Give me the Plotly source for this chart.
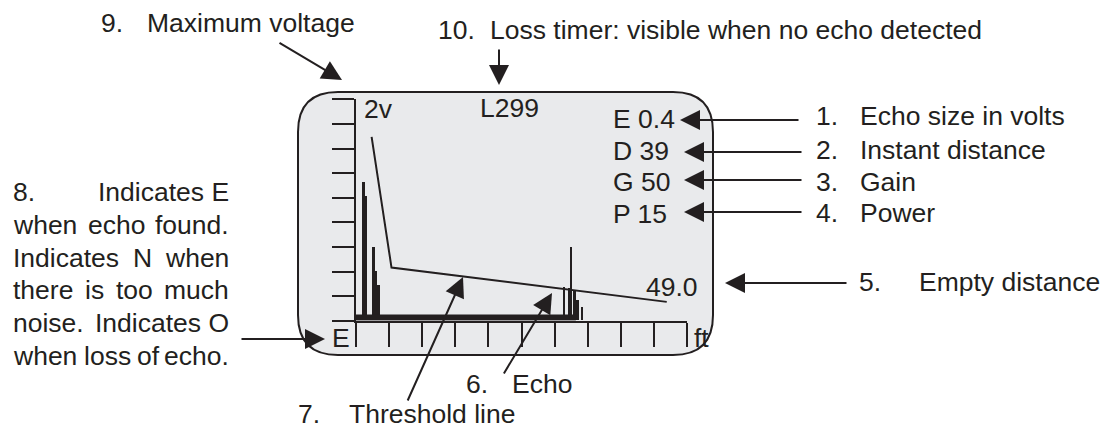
"""Level transmitter echo display, annotated (static diagram)."""

import plotly.graph_objects as go

W, H = 1109, 429
OFF = 8  # page margin around the figure div
INK = "#231f20"
SCREEN = "#e9eaec"
FONT = "Liberation Sans, Arial, sans-serif"
FS = 26.5

# --- display data: distance in ft, amplitude in volts (2 V full scale)
x_range_ft = [0, 50]
y_range_v = [0, 2]
threshold_ft = [2.4, 5.4, 46.9]
threshold_v = [1.66, 0.48, 0.17]
floor_ft = [0, 33.2]
floor_v = [0.028, 0.028]
echo_ft = [1.15, 1.55, 2.65, 3.02, 3.41, 31.41, 32.12, 32.42, 33.02, 33.41, 34.12]
echo_v = [1.25, 1.12, 0.66, 0.45, 0.32, 0.30, 0.29, 0.665, 0.27, 0.18, 0.12]

screen_labels = ["2v", "L299", "E 0.4", "D 39", "G 50", "P 15", "49.0", "E", "ft"]
callouts = [
    ("9.", "Maximum voltage"),
    ("10.", "Loss timer: visible when no echo detected"),
    ("1.", "Echo size in volts"),
    ("2.", "Instant distance"),
    ("3.", "Gain"),
    ("4.", "Power"),
    ("5.", "Empty distance"),
    ("6.", "Echo"),
    ("7.", "Threshold line"),
]
note_8 = [
    "8. Indicates E",
    "when echo found.",
    "Indicates N when",
    "there is too much",
    "noise. Indicates O",
    "when loss of echo.",
]


def px(x):
    return (x - OFF) / W


def py(y):
    return 1 - (y - OFF) / H


fig = go.Figure()

fig.add_trace(go.Bar(
    x=echo_ft, y=echo_v, width=0.3,
    marker={"color": INK, "line": {"width": 0}}, hoverinfo="skip",
))
fig.add_trace(go.Scatter(
    x=floor_ft, y=floor_v, mode="lines",
    line={"color": INK, "width": 6}, hoverinfo="skip",
))
fig.add_trace(go.Scatter(
    x=threshold_ft, y=threshold_v, mode="lines",
    line={"color": INK, "width": 2}, hoverinfo="skip",
))

# screen outline (rounded rect, in pixel units converted to paper)
x0, x1, y0, y1, r = 298, 713, 92, 355, 40
path = (
    f"M {px(x0 + r)},{py(y0)} L {px(x1 - r)},{py(y0)} "
    f"Q {px(x1)},{py(y0)} {px(x1)},{py(y0 + r)} L {px(x1)},{py(y1 - r)} "
    f"Q {px(x1)},{py(y1)} {px(x1 - r)},{py(y1)} L {px(x0 + r)},{py(y1)} "
    f"Q {px(x0)},{py(y1)} {px(x0)},{py(y1 - r)} L {px(x0)},{py(y0 + r)} "
    f"Q {px(x0)},{py(y0)} {px(x0 + r)},{py(y0)} Z"
)
fig.add_shape(type="path", path=path, xref="paper", yref="paper",
              fillcolor=SCREEN, line={"color": INK, "width": 2}, layer="below")


def text(x, y, s, anchor="left"):
    fig.add_annotation(x=px(x), y=py(y), xref="paper", yref="paper", text=s,
                       showarrow=False, xanchor=anchor, yanchor="middle", borderpad=0,
                       font={"family": FONT, "size": FS, "color": INK})


def arrow(tip, tail):
    fig.add_annotation(x=px(tip[0]), y=py(tip[1]), xref="paper", yref="paper",
                       ax=tail[0] - tip[0], ay=tail[1] - tip[1], text="",
                       showarrow=True, arrowhead=2, arrowsize=2, arrowwidth=2,
                       arrowcolor=INK, standoff=0, startstandoff=0)


# labels on the screen
screen_pos = [(363, 109, "left"), (509, 108, "center"), (612, 119, "left"),
              (612, 151, "left"), (612, 182, "left"), (612, 214, "left"),
              (645, 287, "left"), (341, 338, "center"), (701, 338, "center")]
for s, (x, y, a) in zip(screen_labels, screen_pos):
    text(x, y, s, a)

# numbered callouts
callout_pos = [(100, 146, 23), (437, 489, 30), (815, 859, 116), (815, 859, 150),
               (815, 859, 182), (815, 859, 213), (858, 918, 282), (465, 511, 384),
               (297, 348, 414)]
for (num, label), (xn, xl, y) in zip(callouts, callout_pos):
    text(xn, y, num)
    text(xl, y, label)

arrow((342, 80), (278, 42))
arrow((499, 85), (499, 48))
arrow((680, 120), (800, 120))
arrow((684, 152), (803, 152))
arrow((684, 180), (803, 180))
arrow((684, 212), (803, 212))
arrow((725, 283), (848, 283))
arrow((552, 293), (503, 375))
arrow((463, 277), (407, 402))
arrow((325, 339), (240, 339))

# justified note 8, placed word by word
note_layout = [
    [(12, "left"), (230, "right")],
    [(12, "left"), (116, "center"), (230, "right")],
    [(12, "left"), (142, "center"), (230, "right")],
    [(12, "left"), (94, "center"), (134, "center"), (230, "right")],
    [(12, "left"), (230, "right")],
    [(12, "left"), (107, "center"), (148, "center"), (230, "right")],
]
for i, (line, slots) in enumerate(zip(note_8, note_layout)):
    words = line.split(" ")
    if len(slots) == 2 and len(words) > 2:
        words = [words[0], " ".join(words[1:])]
    for w, (x, a) in zip(words, slots):
        text(x, 192.5 + 32.6 * i, w, a)

axis_common = dict(
    showgrid=False, zeroline=False, showline=True, linecolor=INK, linewidth=2,
    ticks="outside", tickcolor=INK, tickwidth=2, showticklabels=False, fixedrange=True,
)
fig.update_xaxes(domain=[px(355.7), px(687.3)], range=x_range_ft, tick0=0, dtick=5,
                 ticklen=24, **axis_common)
fig.update_yaxes(domain=[py(320.7), py(99.3)], range=y_range_v, tick0=0, dtick=2 / 9,
                 ticklen=22, **axis_common)

fig.update_layout(
    width=W, height=H, margin=dict(l=0, r=0, t=0, b=0),
    paper_bgcolor="white", plot_bgcolor="rgba(0,0,0,0)",
    showlegend=False, bargap=0,
    font={"family": FONT, "color": INK, "size": FS},
)

fig.write_html("out.html")
